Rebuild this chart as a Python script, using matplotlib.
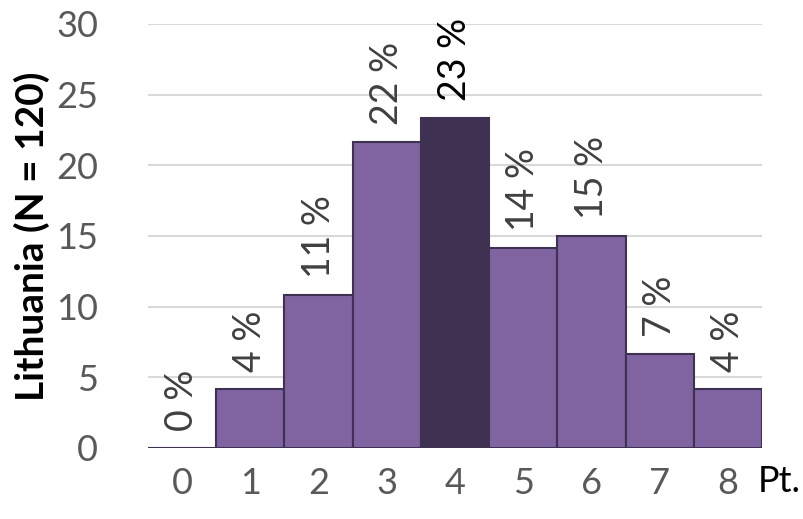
import matplotlib.pyplot as plt

points = [0, 1, 2, 3, 4, 5, 6, 7, 8]
share = [0.0, 4.17, 10.83, 21.67, 23.33, 14.17, 15.0, 6.67, 4.17]
yticks = [0, 5, 10, 15, 20, 25, 30]

plt.rcParams['font.family'] = ['Lato', 'DejaVu Sans']

fig = plt.figure(figsize=(8.04, 5.19), dpi=100)
ax = fig.add_axes([0.184, 0.137, 0.764, 0.817])

colors = ['#3F3151' if p == 4 else '#8064A2' for p in points]
ax.bar(points, share, width=1.0, color=colors, edgecolor='#3F3151',
       linewidth=1.5, zorder=3)

for p, v in zip(points, share):
    ax.annotate(f"{round(v)} %", (p, v), xytext=(0, 12), textcoords='offset points',
                rotation=90, ha='center', va='bottom', fontsize=27,
                color='black' if p == 4 else '#404040')

ax.set_xlim(-0.5, 8.5)
ax.set_ylim(0, 30)
ax.set_yticks(yticks)
ax.set_xticks(points)
ax.tick_params(length=0, labelsize=26, labelcolor='#595959')
ax.tick_params(axis='y', pad=36)
ax.tick_params(axis='x', pad=14)
ax.grid(axis='y', color='#D9D9D9', linewidth=1.5, zorder=0)
for s in ax.spines.values():
    s.set_visible(False)

ax.set_ylabel("Lithuania (N = 120)", fontsize=28, fontweight='bold', labelpad=4)
fig.text(801 / 804, 1 - 482 / 519, "Pt.", fontsize=26, ha='right', va='center')

fig.savefig("out.png", dpi=100)
